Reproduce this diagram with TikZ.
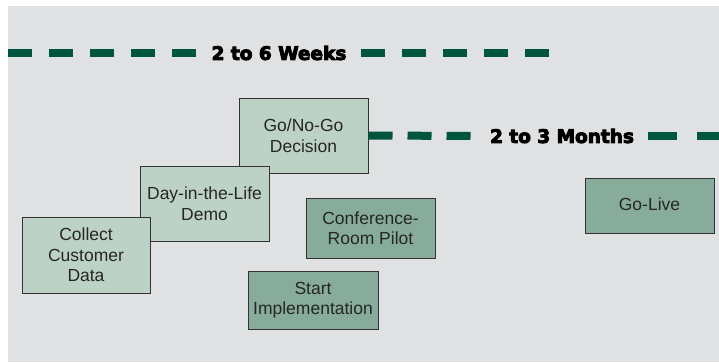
\documentclass[tikz,border=0pt]{standalone}
\usepackage{fontspec}
\setmainfont{Liberation Sans}
\newfontfamily\headfont{DejaVu Sans}
\newcommand{\heavytext}[1]{\special{pdf:literal 2 Tr 0.9 w}#1\special{pdf:literal 0 Tr 1 w}}
\definecolor{bgcol}{HTML}{E0E1E3}
\definecolor{lightfill}{HTML}{BDD2C7}
\definecolor{darkfill}{HTML}{87AC9C}
\definecolor{dashgreen}{HTML}{00553F}
\definecolor{boxline}{HTML}{333333}
\begin{document}
\begin{tikzpicture}[x=1pt,y=-1pt,
  box/.style={draw=boxline, line width=1pt, minimum width=129pt, align=center,
    font=\fontsize{17.5}{20.5}\selectfont, inner sep=0pt, text=black!85},
  lightbox/.style={box, fill=lightfill},
  darkbox/.style={box, fill=darkfill},
  timeline/.style={draw=dashgreen, line width=8pt, dash pattern=on 24pt off 17pt},
  timelinetwo/.style={draw=dashgreen, line width=8pt, dash pattern=on 24pt off 15pt},
  timelinethree/.style={draw=dashgreen, line width=8pt, dash pattern=on 29pt off 20pt},
  span/.style={font=\headfont\bfseries\fontsize{18.5}{20}\selectfont, inner ysep=0pt, text=black}]
\useasboundingbox (0,0) rectangle (719,362);
\fill[bgcol] (8,6) rectangle (719,362);

% timeline 1
\coordinate (t1s) at (8,53);
\coordinate (t1e) at (551,53);
\node[span, inner xsep=14pt] (weeks) at (279,53) {\heavytext{2 to 6 Weeks}};
\draw[timeline] (t1s) -- (weeks.west);
\draw[timeline] (weeks.east) -- (t1e);

% boxes
\node[lightbox, minimum height=75pt] (gonogo) at (303.5,135.5) {Go/No-Go\\Decision};
\node[lightbox, minimum height=75pt] (day) at (204.5,203.5) {Day-in-the-Life\\Demo};
\node[lightbox, minimum width=128pt, minimum height=76pt] (collect) at (86,255) {Collect\\Customer\\Data};
\node[darkbox, minimum height=60pt] (pilot) at (370.5,228) {Conference-\\Room Pilot};
\node[darkbox, minimum width=130pt, minimum height=58pt] (start) at (313,300) {Start\\Implementation};
\node[darkbox, minimum height=55pt] (golive) at (649.5,205.5) {\raisebox{2.5pt}{Go-Live}};

% timeline 2
\coordinate (t2e) at (719,136);
\node[span, inner xsep=13.5pt] (months) at (562,136) {\heavytext{2 to 3 Months}};
\draw[timelinetwo] (gonogo.east) -- (months.west);
\draw[timelinethree] (months.east) -- (t2e);
\end{tikzpicture}
\end{document}
